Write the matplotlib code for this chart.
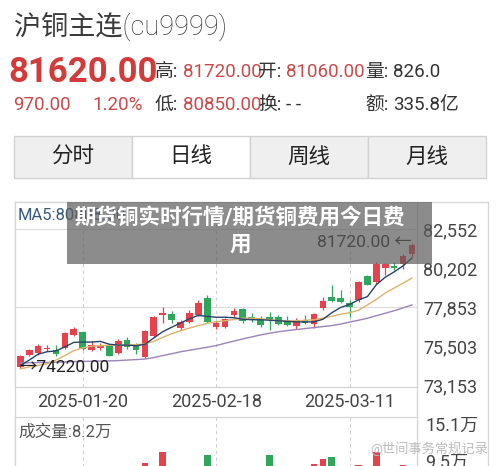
import matplotlib
matplotlib.use("Agg")
import matplotlib.pyplot as plt
import numpy as np
import pandas as pd
from matplotlib.patches import Rectangle

plt.rcParams['font.family'] = ['Roboto', 'Noto Sans CJK SC', 'DejaVu Sans']

W, H = 500, 466
RED = '#e5424d'
GREEN = '#2fa65b'

# trading days on screen (spring festival break removed)
days = pd.bdate_range('2025-01-09', '2025-03-20')
days = days[(days < '2025-01-28') | (days > '2025-02-04')]
tick_dates = ['2025-01-20', '2025-02-18', '2025-03-11']

opens = [74300, 74980, 75090, 75370, 75310, 75440, 76180, 76360, 75320, 75400,
         75590, 75120, 75900, 75540, 74900, 76110, 77410, 77480, 76640, 77000,
         77410, 78440, 76650, 76690, 77390, 77750, 77290, 77110, 77250, 77250,
         77050, 76720, 77110, 76860, 77840, 78490, 78400, 78100, 78300, 79730,
         79380, 80230, 80320, 80470, 81060]
highs = [75010, 75370, 75640, 75580, 75590, 76350, 76680, 76400, 75830, 75740,
         75660, 75930, 76070, 75700, 76520, 77350, 77900, 77660, 77110, 77700,
         78300, 78590, 77010, 77210, 77790, 77790, 77500, 77310, 77570, 77370,
         77310, 77210, 77370, 77510, 78490, 79180, 78890, 78300, 79420, 79820,
         80600, 80510, 80560, 81060, 81720]
lows = [74220, 74920, 75010, 75220, 74940, 75370, 76130, 75310, 75240, 75280,
        74910, 75070, 75340, 75050, 74840, 76050, 76920, 76920, 76520, 76940,
        77350, 76910, 76550, 76610, 77290, 76920, 76970, 76670, 76520, 76820,
        76720, 76580, 76860, 76620, 77700, 78190, 78100, 77250, 78200, 79180,
        79280, 79820, 80070, 80170, 80850]
closes = [74940, 75280, 75540, 75430, 75070, 76290, 76560, 75360, 75610, 75550,
          74940, 75830, 75500, 75280, 76430, 77280, 77530, 77080, 77000, 77530,
          78100, 76970, 76910, 77130, 77660, 77040, 77110, 76780, 77110, 76860,
          76780, 77010, 76920, 77470, 78240, 78240, 78160, 77900, 79380, 79220,
          80470, 80470, 80200, 80910, 81620]

ma5 = [74350, 74690, 75045, 75190, 75240, 75480, 75750, 75770, 75770, 75810,
       75640, 75590, 75590, 75550, 75640, 76020, 76390, 76660, 76910, 77170,
       77370, 77310, 77260, 77260, 77230, 77140, 77110, 77110, 77080, 77050,
       77010, 76980, 76980, 76980, 77140, 77530, 77850, 78030, 78300, 78500,
       79210, 79660, 79980, 80340, 80810]
ma10 = [74160, 74280, 74370, 74470, 74690, 74960, 75250, 75430, 75520, 75550,
        75580, 75590, 75590, 75610, 75670, 75810, 76050, 76270, 76450, 76610,
        76760, 76890, 77000, 77050, 77130, 77200, 77200, 77170, 77110, 77050,
        77050, 77050, 77080, 77110, 77200, 77320, 77440, 77530, 77680, 78000,
        78330, 78710, 79010, 79300, 79610]
ma20 = [74510, 74530, 74540, 74550, 74570, 74580, 74600, 74610, 74620, 74630,
        74640, 74660, 74690, 74720, 74750, 74840, 74960, 75070, 75190, 75280,
        75370, 75460, 75560, 75700, 75830, 75960, 76080, 76200, 76300, 76390,
        76460, 76520, 76580, 76640, 76700, 76760, 76850, 76970, 77080, 77200,
        77350, 77500, 77650, 77820, 78000]

# volume in 万 lots (only the tallest bars show above the crop)
volumes = [6.8, 5.9, 6.5, 5.2, 9.15, 8.4, 7.6, 8.9, 6.3, 5.8,
           7.9, 7.4, 6.9, 6.1, 9.44, 8.6, 10.88, 8.1, 7.2, 8.3,
           8.8, 10.47, 7.5, 7.7, 6.6, 8.5, 6.2, 7.0, 10.47, 6.4,
           6.7, 7.1, 6.0, 9.38, 9.99, 10.17, 8.7, 8.9, 9.26, 8.2,
           10.88, 7.8, 7.3, 9.2, 8.2]

price_ticks = [73153, 75503, 77853, 80202, 82552]
price_grid = [77853, 82552]
vol_ticks = [15.1, 9.5]


def box(x0, y0, x1, y1):
    return [x0 / W, 1 - y1 / H, (x1 - x0) / W, (y1 - y0) / H]


fig = plt.figure(figsize=(5, 4.66), dpi=100)

# page background in pixel coords
bg = fig.add_axes([0, 0, 1, 1])
bg.set_xlim(0, W)
bg.set_ylim(H, 0)
bg.axis('off')

bg.text(14, 26, '沪铜主连(cu9999)', fontsize=19.5, color='#3a3a3a', va='center',
        fontweight='light')
bg.text(8, 72, '81620.00', fontsize=25, fontweight='bold', color='#d33a3a', va='center')
bg.text(13, 105, '970.00', fontsize=13.5, color='#c94a4a', va='center')
bg.text(92, 105, '1.20%', fontsize=13.5, color='#c94a4a', va='center')

info = [
    (155, 72, '高:', '81720.00', '#c94a4a'),
    (258, 72, '开:', '81060.00', '#c94a4a'),
    (365, 72, '量:', '826.0', '#333333'),
    (155, 105, '低:', '80850.00', '#c94a4a'),
    (258, 105, '换:', '- -', '#333333'),
    (365, 105, '额:', '335.8亿', '#333333'),
]
for x0, y0, lab, val, col in info:
    bg.text(x0, y0, lab, fontsize=13.5, color='#333333', va='center')
    bg.text(x0 + 28, y0, val, fontsize=13.5, color=col, va='center')

tabs = ['分时', '日线', '周线', '月线']
for i, t in enumerate(tabs):
    x0 = 14 + i * 118
    bg.add_patch(Rectangle((x0, 136), 118, 42, fc='white' if i == 1 else '#efefef',
                           ec='#d2d2d2', lw=1))
    bg.text(x0 + 59, 157, t, ha='center', va='center', fontsize=15.5, color='#222222')

# outer chart frame
bg.plot([15, 488], [201.5, 201.5], color='#d5d5d5', lw=0.9)
bg.plot([15, 15], [201.5, 466], color='#d5d5d5', lw=0.9)
bg.plot([417, 417], [201.5, 466], color='#d5d5d5', lw=0.9)
bg.plot([488, 488], [201.5, 466], color='#d5d5d5', lw=0.9)

x = np.arange(len(days))
o = np.array(opens)
c = np.array(closes)
colors = np.where(c >= o, RED, GREEN)
tick_pos = [days.get_loc(pd.Timestamp(d)) for d in tick_dates]

# price panel
ax = fig.add_axes(box(15, 201.5, 417, 387))
for gy in price_grid:
    ax.axhline(gy, color='#dcdcdc', lw=0.8, zorder=0)
for tp in tick_pos:
    ax.axvline(tp, color='#d0d0d0', lw=0.8, ls=(0, (3, 3)), zorder=0)
ax.vlines(x, lows, highs, colors=colors, lw=0.9, zorder=2)
ax.bar(x, np.maximum(np.abs(c - o), 25), bottom=np.minimum(o, c), width=0.75,
       color=colors, zorder=3)
ax.plot(x, ma20, color='#9b84b8', lw=1.0, zorder=4)
ax.plot(x, ma10, color='#dcb36a', lw=1.0, zorder=4)
ax.plot(x, ma5, color='#25456b', lw=1.0, zorder=4)

ax.set_xlim(-0.6, 44.57)
ax.set_ylim(73075, 84202)
ax.yaxis.tick_right()
ax.set_yticks(price_ticks)
ax.set_yticklabels([f'{v:,}' for v in price_ticks])
ax.set_xticks(tick_pos)
ax.set_xticklabels(tick_dates)
ax.tick_params(axis='y', length=0, pad=4.5, labelsize=13, labelcolor='#444444')
ax.tick_params(axis='x', length=0, pad=4.5, labelsize=13, labelcolor='#444444')
for s in ax.spines.values():
    s.set_color('#d5d5d5')
    s.set_linewidth(0.9)

ax.text(0.007, 0.922, 'MA5:80808.00', transform=ax.transAxes, fontsize=12,
        color='#3a5a7d', va='center')
ax.text(-0.1, lows[0], '→74220.00', fontsize=12.5, color='#222222', va='center', zorder=6)
ax.text(44, highs[-1], '81720.00 ←', fontsize=12.5, color='#222222', va='center',
        ha='right', zorder=6)

# volume panel (runs past the bottom of the screenshot)
axv = fig.add_axes(box(15, 417, 417, 541))
for tp in tick_pos:
    axv.axvline(tp, color='#d0d0d0', lw=0.8, ls=(0, (3, 3)), zorder=0)
axv.bar(x, volumes, width=0.75, color=colors, zorder=2)
axv.set_xlim(-0.6, 44.57)
axv.set_ylim(0, 15.1)
axv.set_xticks([])
axv.set_yticks([])
for s in axv.spines.values():
    s.set_color('#d5d5d5')
    s.set_linewidth(0.9)
axv.text(0.0075, 0.879, '成交量:8.2万', transform=axv.transAxes, fontsize=12,
         color='#555555', va='center')
yt = axv.get_yaxis_transform()
axv.text(1.02, vol_ticks[0], f'{vol_ticks[0]}万', transform=yt, fontsize=13,
         color='#444444', va='top', clip_on=False)
axv.text(1.02, vol_ticks[1], f'{vol_ticks[1]}万', transform=yt, fontsize=13,
         color='#444444', va='center', clip_on=False)

# overlay banner + watermark
ov = fig.add_axes([0, 0, 1, 1], zorder=5)
ov.set_xlim(0, W)
ov.set_ylim(H, 0)
ov.axis('off')
ov.add_patch(Rectangle((67, 202), 365, 62, fc='#5c5c5c', alpha=0.7, ec='none'))
ov.text(240, 231.5, '期货铜实时行情/期货铜费用今日费\n用', ha='center', va='center',
        color='white', fontsize=15.5, fontweight='bold', linespacing=1.25)
ov.text(370, 449, '@世间事务常规记录', fontsize=9.5, color='#bdbdbd', va='center')

fig.savefig('out.png', dpi=100)
